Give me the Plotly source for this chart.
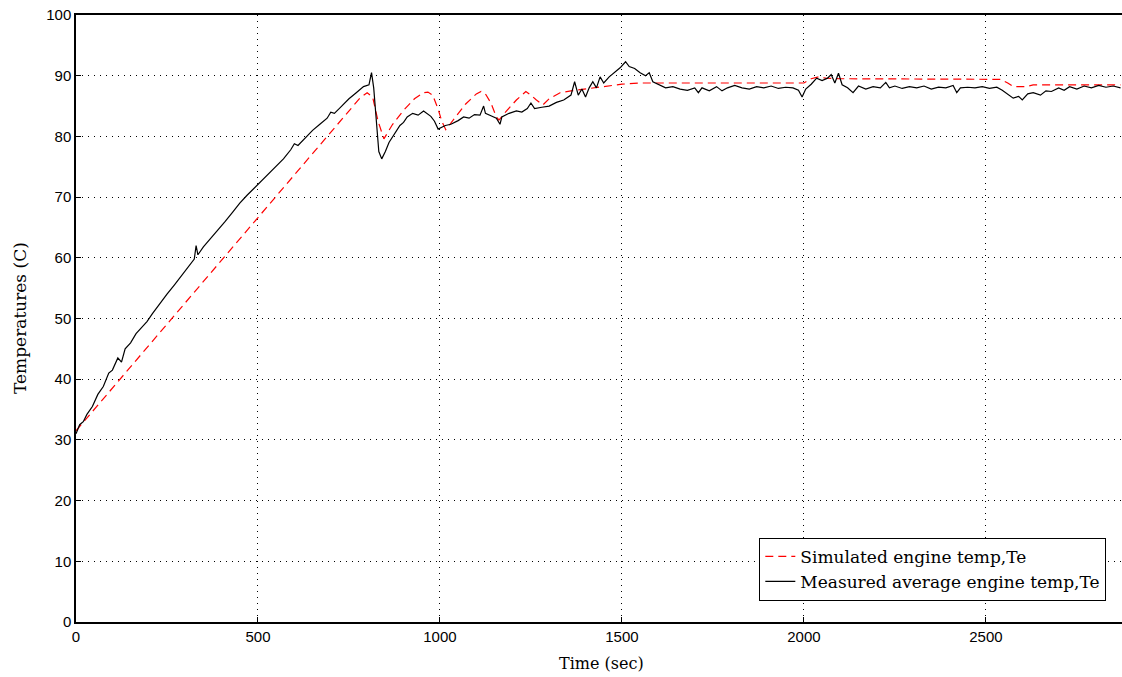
import plotly.graph_objects as go

# Simulated engine temperature (red dashed)
sim_t = [0, 780, 800, 815, 830, 846, 870, 900, 930, 955, 967, 980, 995, 1005, 1016,
         1040, 1070, 1100, 1113, 1125, 1140, 1155, 1162, 1180, 1210, 1236, 1250, 1265,
         1283, 1300, 1330, 1360, 1400, 1450, 1500, 1550, 2000, 2020, 2040, 2060, 2100,
         2540, 2560, 2575, 2610, 2630, 2870]
sim_T = [31.5, 86.3, 87.2, 86.5, 82.5, 79.6, 82.0, 84.3, 86.2, 87.2, 87.3, 86.8, 84.5,
         82.5, 81.1, 83.0, 85.3, 87.0, 87.4, 87.0, 85.5, 83.2, 82.7, 84.0, 86.0, 87.4,
         86.8, 86.0, 85.2, 86.2, 87.2, 87.5, 87.8, 88.2, 88.6, 88.8, 88.8, 89.5, 89.8,
         89.6, 89.5, 89.4, 88.8, 88.2, 88.2, 88.5, 88.5]

# Measured average engine temperature (black)
meas_t = [0, 10, 20, 30, 45, 60, 75, 90, 100, 115, 125, 135, 150, 165, 180, 195, 210,
          230, 250, 270, 290, 310, 325, 330, 335, 350, 370, 390, 410, 430, 450, 470,
          490, 510, 530, 550, 570, 590, 600, 610, 630, 650, 670, 690, 700, 710, 730,
          750, 770, 790, 805, 812, 818, 825, 832, 840, 850, 860, 875, 890, 900, 910,
          925, 940, 955, 965, 975, 985, 995, 1005, 1015, 1030, 1050, 1065, 1080, 1095,
          1110, 1120, 1125, 1140, 1155, 1165, 1170, 1190, 1210, 1225, 1240, 1250, 1260,
          1280, 1300, 1320, 1340, 1360, 1370, 1380, 1390, 1400, 1410, 1420, 1430, 1440,
          1450, 1465, 1480, 1495, 1510, 1520, 1535, 1550, 1565, 1575, 1585, 1600, 1620,
          1640, 1660, 1680, 1700, 1710, 1720, 1740, 1760, 1775, 1790, 1810, 1830, 1850,
          1870, 1890, 1910, 1930, 1950, 1970, 1985, 1995, 2005, 2020, 2035, 2050, 2065,
          2075, 2085, 2095, 2105, 2120, 2135, 2150, 2170, 2190, 2210, 2225, 2235, 2250,
          2270, 2290, 2310, 2330, 2350, 2370, 2390, 2410, 2420, 2430, 2450, 2470, 2490,
          2510, 2530, 2545, 2560, 2575, 2590, 2600, 2615, 2630, 2650, 2665, 2680, 2700,
          2715, 2730, 2750, 2770, 2790, 2810, 2830, 2850, 2870]
meas_T = [31.0, 32.5, 33.0, 34.2, 35.5, 37.5, 38.8, 41.0, 41.5, 43.5, 42.8, 45.0, 46.0,
          47.5, 48.5, 49.5, 50.8, 52.5, 54.0, 55.5, 57.0, 58.5, 59.8, 62.0, 60.5, 61.8,
          63.2, 64.5, 66.0, 67.5, 69.0, 70.3, 71.5, 72.6, 73.8, 75.0, 76.3, 77.8, 78.8,
          78.5, 79.8, 81.0, 82.0, 83.0, 84.0, 83.8, 85.0, 86.2, 87.2, 88.2, 88.5, 90.5,
          88.0, 82.0, 77.5, 76.3, 77.5, 79.0, 80.5, 81.8, 82.3, 83.2, 83.8, 83.5, 84.2,
          83.8, 83.3, 82.5, 81.2, 81.5, 81.8, 82.0, 82.6, 83.2, 83.0, 83.6, 83.5, 85.0,
          83.8, 83.4, 83.0, 82.0, 83.2, 83.8, 84.2, 84.0, 84.6, 85.5, 84.6, 84.8, 85.0,
          85.6, 86.0, 86.8, 89.0, 86.8, 87.8, 86.5, 88.0, 89.0, 88.0, 89.8, 88.8, 89.8,
          90.5, 91.3, 92.3, 91.5, 91.2, 90.5, 90.0, 90.5, 89.0, 88.6, 88.0, 88.2, 87.8,
          87.6, 88.0, 87.2, 88.0, 87.5, 88.2, 87.5, 88.0, 88.4, 88.0, 87.8, 88.2, 88.0,
          88.3, 87.9, 88.1, 88.0, 87.6, 86.5, 87.8, 88.6, 89.6, 89.2, 89.6, 90.2, 88.8,
          90.4, 88.5, 88.0, 87.2, 88.3, 87.8, 88.2, 88.0, 88.9, 88.0, 88.3, 87.9, 88.2,
          88.0, 88.3, 87.8, 88.1, 88.0, 88.4, 87.2, 88.0, 88.1, 88.0, 88.2, 87.9, 88.1,
          87.6, 87.0, 86.3, 86.6, 86.0, 87.0, 87.2, 86.8, 87.5, 87.4, 88.0, 87.6, 88.2,
          87.8, 88.3, 88.0, 88.4, 88.1, 88.3, 88.0]

x_ticks = [0, 500, 1000, 1500, 2000, 2500]
y_ticks = [0, 10, 20, 30, 40, 50, 60, 70, 80, 90, 100]

fig = go.Figure()
fig.add_trace(go.Scatter(x=sim_t, y=sim_T, mode="lines", name="Simulated engine temp,Te",
                         line=dict(color="#ff0000", width=1.2, dash="8px,5px")))
fig.add_trace(go.Scatter(x=meas_t, y=meas_T, mode="lines", name="Measured average engine temp,Te",
                         line=dict(color="#000000", width=1.2)))

tick_font = dict(family="Liberation Sans Narrow, Arial Narrow, Liberation Sans, Arial", size=15, color="#000")
serif = "DejaVu Serif, Liberation Serif, serif"

fig.update_layout(
    width=1122, height=677,
    margin=dict(l=76, r=0, t=15, b=55),
    paper_bgcolor="white", plot_bgcolor="white",
    showlegend=True,
    legend=dict(x=0.985, y=0.035, xanchor="right", yanchor="bottom",
                bgcolor="white", bordercolor="black", borderwidth=1,
                font=dict(family=serif, size=17, color="#000"),
                tracegroupgap=2),
    annotations=[
        dict(text="Time (sec)", xref="paper", yref="paper", x=(601 - 76) / 1046,
             y=-(663 - 622) / 607, xanchor="center", yanchor="middle", showarrow=False,
             font=dict(family=serif, size=16, color="#000")),
        dict(text="Temperatures (C)", xref="paper", yref="paper", x=-(76 - 20) / 1046,
             y=(622 - 318) / 607, xanchor="center", yanchor="middle", showarrow=False,
             textangle=-90, font=dict(family=serif, size=17, color="#000")),
    ],
)
fig.update_xaxes(range=[0, 2874], tickvals=x_ticks, ticktext=[str(v) for v in x_ticks],
                 showgrid=True, gridcolor="#000", griddash="1px,5px", gridwidth=1,
                 showline=True, linecolor="#000", linewidth=1.5, mirror=True,
                 ticks="inside", ticklen=5, tickcolor="#000", zeroline=False,
                 tickfont=tick_font)
fig.update_yaxes(range=[0, 100], tickvals=y_ticks, ticktext=[str(v) for v in y_ticks],
                 showgrid=True, gridcolor="#000", griddash="1px,5px", gridwidth=1,
                 showline=True, linecolor="#000", linewidth=1.5,
                 ticks="inside", ticklen=5, tickcolor="#000", zeroline=False,
                 tickfont=tick_font)

fig.write_html("out.html")
